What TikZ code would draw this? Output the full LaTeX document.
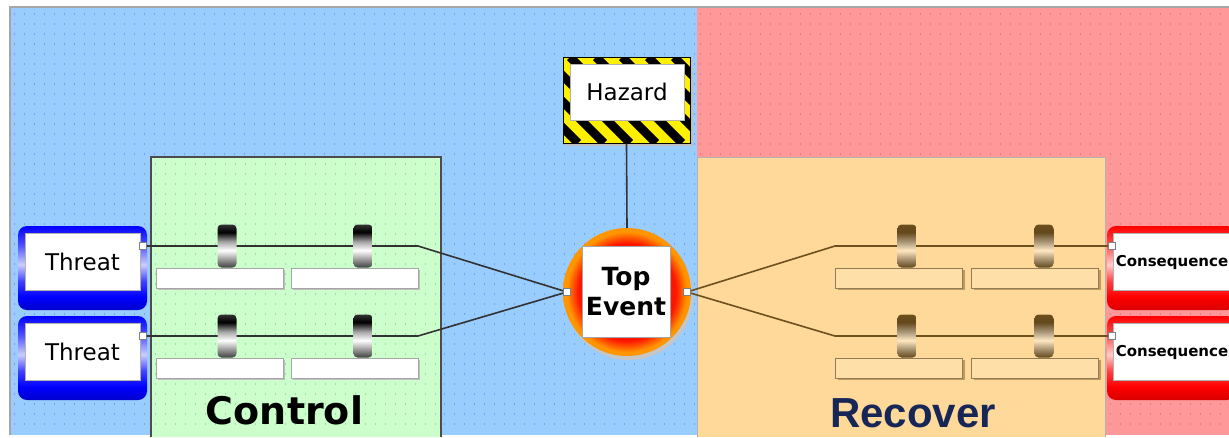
\documentclass[tikz,border=0pt]{standalone}
\usepackage{fontspec}
\setmainfont{DejaVu Sans}
\newfontfamily\arialfont{Liberation Sans}
\usetikzlibrary{calc}

\definecolor{bgblue}{RGB}{153,204,255}
\definecolor{bgred}{RGB}{255,153,153}
\definecolor{bggreen}{RGB}{204,255,204}
\definecolor{bgpeach}{RGB}{255,217,153}
\definecolor{dotblue}{RGB}{105,165,245}
\definecolor{dotred}{RGB}{235,120,130}
\definecolor{dotgreen}{RGB}{150,225,170}
\definecolor{linedark}{RGB}{50,50,50}
\definecolor{linebrown}{RGB}{110,80,30}
\definecolor{navy}{RGB}{22,38,87}
\definecolor{hazyellow}{RGB}{255,240,0}
\definecolor{eventred}{RGB}{255,20,0}
\definecolor{eventorange}{RGB}{255,150,0}

% shadings are laid out on 100bp; the shaded path covers 25bp..75bp
\pgfdeclareverticalshading{barrierdark}{100bp}{color(0bp)=(black!75);color(25bp)=(black!75);color(33bp)=(black!45);color(45bp)=(white);color(55bp)=(black!35);color(66bp)=(black);color(75bp)=(black!80);color(100bp)=(black!80)}
\pgfdeclareverticalshading{barrierbrown}{100bp}{color(0bp)=(linebrown!90!black);color(25bp)=(linebrown!90!black);color(33bp)=(linebrown!70);color(45bp)=(bgpeach!60!white);color(55bp)=(linebrown!60);color(66bp)=(linebrown!90!black);color(75bp)=(linebrown);color(100bp)=(linebrown)}
\pgfdeclareverticalshading{threatshade}{100bp}{color(0bp)=(blue!80!black);color(25bp)=(blue!80!black);color(33bp)=(blue);color(42bp)=(blue!75);color(52bp)=(blue!20!white);color(64bp)=(blue!70);color(75bp)=(blue);color(100bp)=(blue)}
\pgfdeclareverticalshading{consshade}{100bp}{color(0bp)=(red!85!black);color(25bp)=(red!85!black);color(33bp)=(red);color(42bp)=(red!75);color(52bp)=(red!20!white);color(64bp)=(red!70);color(75bp)=(red);color(100bp)=(red)}
\pgfdeclareradialshading{eventshade}{\pgfpoint{0bp}{0bp}}{color(0bp)=(eventred);color(19bp)=(eventred);color(23.5bp)=(eventorange);color(25bp)=(eventorange);color(50bp)=(eventorange)}

\tikzset{
  port/.style={draw=gray, fill=white, line width=0.6pt, minimum size=7pt, inner sep=0pt},
  wire/.style={draw=linedark, line width=1.6pt},
  wirebrown/.style={draw=linebrown, line width=1.6pt},
  barrierL/.style={shade, shading=barrierdark, rounded corners=4pt, minimum width=19pt, minimum height=43pt, inner sep=0pt},
  barrierR/.style={shade, shading=barrierbrown, rounded corners=4pt, minimum width=19pt, minimum height=43pt, inner sep=0pt},
  slotL/.style={draw=gray!70, fill=white, line width=0.8pt, minimum width=127pt, minimum height=20pt, inner sep=0pt},
  slotshadow/.style={fill=gray!50, minimum width=127pt, minimum height=20pt, inner sep=0pt},
  slotshadowR/.style={fill=linebrown!45!bgpeach, minimum width=127pt, minimum height=20pt, inner sep=0pt},
  slotR/.style={draw=linebrown!75, fill=bgpeach!85!white, line width=0.8pt, minimum width=127pt, minimum height=20pt, inner sep=0pt},
  threatbox/.style={shade, shading=threatshade, rounded corners=9pt, minimum width=129pt, minimum height=84pt, inner sep=0pt},
  consbox/.style={shade, shading=consshade, rounded corners=9pt, minimum width=129pt, minimum height=84pt, inner sep=0pt},
  labelbox/.style={draw=gray!60, fill=white, line width=0.8pt, minimum width=115pt, minimum height=57pt, inner sep=0pt, font=\fontsize{23}{26}\selectfont},
  conslabel/.style={draw=gray!60, fill=white, line width=0.8pt, minimum width=118pt, minimum height=57pt, inner sep=0pt, font=\bfseries\fontsize{15}{17}\selectfont},
}

\begin{document}
\begin{tikzpicture}[x=1pt,y=-1pt]
\useasboundingbox (0,0) rectangle (1229,437);
\fill[white] (0,0) rectangle (1229,437);

% background regions
\fill[bgblue] (10,7) rectangle (697,435);
\fill[bgred] (697,7) rectangle (1229,435);
\draw[gray!70, line width=1.2pt] (10,435) -- (10,7) -- (1229,7);

% dotted texture
\foreach \yy in {14,24,...,430}{
  \draw[dotblue, line width=1.3pt, dash pattern=on 1.3pt off 8.7pt] (14,\yy) -- (695,\yy);
  \draw[dotred, line width=1.3pt, dash pattern=on 1.3pt off 8.7pt] (700,\yy) -- (1229,\yy);
}

% control and recovery zones
\fill[bggreen] (151,157) rectangle (441,437);
\fill[bgpeach] (697,157) rectangle (1105,437);
\foreach \yy in {164,174,...,430}{
  \draw[dotgreen, line width=1.3pt, dash pattern=on 1.3pt off 8.7pt] (155,\yy) -- (439,\yy);
}
\draw[gray!60!black, line width=1.2pt] (151,437) -- (151,157) -- (441,157) -- (441,437);
\draw[gray!60, line width=1pt] (697,437) -- (697,157) -- (1105,157) -- (1105,437);

% hazard sign
\fill[gray!50] (566,60) rectangle (693,146);
\begin{scope}
  \clip (563,57) rectangle (690,143);
  \fill[hazyellow] (563,57) rectangle (690,143);
  \foreach \xx in {440,466,...,700}{
    \draw[black, line width=8.5pt] (\xx,57) -- (\xx+86,143);
  }
\end{scope}
\node[draw=black, line width=1pt, minimum width=127pt, minimum height=86pt, inner sep=0pt] (hazard) at (626.5,100) {};
\node[draw=gray!60, fill=white, line width=0.8pt, minimum width=114pt, minimum height=56pt, inner sep=0pt, font=\fontsize{23}{26}\selectfont] (hazardtxt) at (627,92) {Hazard};

% top event
\fill[gray!45] (629,296) circle (64);
\node[circle, minimum size=128pt, inner sep=0pt, shade, shading=eventshade] (top) at (627,292) {};
\node[draw=gray!70, fill=white, line width=0.8pt, minimum width=88pt, minimum height=91pt, inner sep=0pt, align=center, font=\bfseries\fontsize{25}{30}\selectfont] (toptxt) at (626,292) {Top\\Event};
\draw[wire] (hazard.south) -- (top.north);

% threats
\node[threatbox] (threat1) at (82.5,268) {};
\node[labelbox] (threat1txt) at (82.5,262) {Threat};
\node[threatbox] (threat2) at (82.5,358) {};
\node[labelbox] (threat2txt) at (82.5,352) {Threat};

% consequences
\begin{scope}
  \clip (1100,200) rectangle (1229,420);
  \node[consbox] (cons1) at (1171.5,268) {};
  \node[conslabel] (cons1txt) at (1172,262) {Consequence};
  \node[consbox] (cons2) at (1171.5,358) {};
  \node[conslabel] (cons2txt) at (1172,352) {Consequence};
\end{scope}

% ports
\node[port] (tp1) at (143,246) {};
\node[port] (tp2) at (143,336) {};
\node[port] (topL) at (567,292) {};
\node[port] (topR) at (687,292) {};
\node[port] (cp1) at (1112,246) {};
\node[port] (cp2) at (1112,336) {};

% bends
\coordinate (bl1) at (418,246);
\coordinate (bl2) at (418,336);
\coordinate (br1) at (835,246);
\coordinate (br2) at (835,336);

% wires
\draw[wire] (tp1) -- (bl1) -- (topL);
\draw[wire] (tp2) -- (bl2) -- (topL);
\draw[wirebrown] (topR) -- (br1) -- (cp1);
\draw[wirebrown] (topR) -- (br2) -- (cp2);

% preventive barriers
\foreach \row/\yy in {1/246,2/336}{
  \node[slotshadow] at (221.5,\yy+34) {};
  \node[slotshadow] at (356.5,\yy+34) {};
  \node[slotL] (sl\row a) at (219.5,\yy+32) {};
  \node[slotL] (sl\row b) at (354.5,\yy+32) {};
  \node[barrierL] (bl\row a) at (227,\yy) {};
  \node[barrierL] (bl\row b) at (363,\yy) {};
}

% recovery barriers
\foreach \row/\yy in {1/246,2/336}{
  \node[slotshadowR] at (901,\yy+34) {};
  \node[slotshadowR] at (1037,\yy+34) {};
  \node[slotR] (sr\row a) at (899,\yy+32) {};
  \node[slotR] (sr\row b) at (1035,\yy+32) {};
  \node[barrierR] (br\row a) at (907,\yy) {};
  \node[barrierR] (br\row b) at (1044,\yy) {};
}

% zone titles
\node[font=\bfseries\fontsize{38}{40}\selectfont] (control) at (284.5,410) {Control};
\node[font=\arialfont\bfseries\fontsize{42}{44}\selectfont, text=navy] (recover) at (913,413) {Recover};
\end{tikzpicture}
\end{document}
